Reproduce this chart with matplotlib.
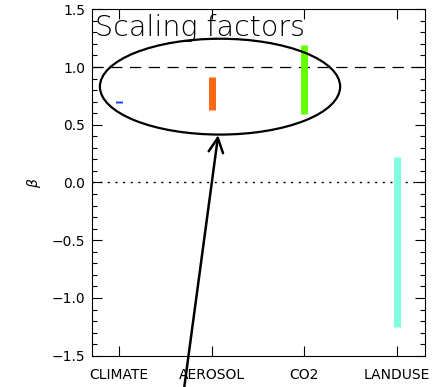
import numpy as np
import matplotlib
matplotlib.use('Agg')
import matplotlib.pyplot as plt
from matplotlib.patches import Ellipse
from matplotlib.ticker import MultipleLocator, FuncFormatter

# scaling factor ranges per forcing
forcings = ['CLIMATE', 'AEROSOL', 'CO2', 'LANDUSE']
beta_low = [0.69, 0.63, 0.59, -1.25]
beta_high = [0.71, 0.91, 1.19, 0.22]
colors = ['#2244ff', '#ff6611', '#66ff00', '#80ffe0']

plt.rcParams['font.family'] = 'DejaVu Sans'

fig = plt.figure(figsize=(4.48, 3.87), dpi=100)
ax = fig.add_axes([0.2054, 0.0809, 0.7433, 0.8951])

x = np.arange(1, len(forcings) + 1)
for xi, lo, hi, c in zip(x, beta_low, beta_high, colors):
    ax.vlines(xi, lo, hi, colors=c, linewidth=5, zorder=3)

ax.axhline(1.0, color='black', linestyle=(0, (9, 6)), linewidth=0.9)
ax.axhline(0.0, color='black', linestyle=(0, (1.5, 4)), linewidth=1.0)

ax.add_patch(Ellipse((2.09, 0.83), 2.59, 0.83, fill=False, edgecolor='black', linewidth=1.6, zorder=4))
ax.annotate('', xy=(2.07, 0.41), xytext=(1.70, -1.80),
            arrowprops=dict(arrowstyle='->', color='black', lw=1.8, mutation_scale=26,
                            shrinkA=0, shrinkB=0),
            annotation_clip=False)

ax.text(0.74, 1.335, 'Scaling factors', fontsize=20.5, fontweight='light', va='center', ha='left')

ax.set_xlim(0.71, 4.30)
ax.set_ylim(-1.5, 1.5)
ax.set_xticks(x)
ax.set_xticklabels(forcings)
ax.yaxis.set_major_locator(MultipleLocator(0.5))
ax.yaxis.set_minor_locator(MultipleLocator(0.1))
ax.yaxis.set_major_formatter(FuncFormatter(lambda v, pos: f'{v:.1f}'.replace('-', '\u2212')))
ax.tick_params(direction='in', top=True, right=True, labelsize=10, length=7, width=0.8, pad=5)
ax.tick_params(which='minor', direction='in', right=True, length=3.5, width=0.8)
ax.tick_params(axis='x', pad=9)
ax.set_ylabel(r'$\beta$', fontsize=10, labelpad=6)

fig.savefig('out.png', dpi=100)
